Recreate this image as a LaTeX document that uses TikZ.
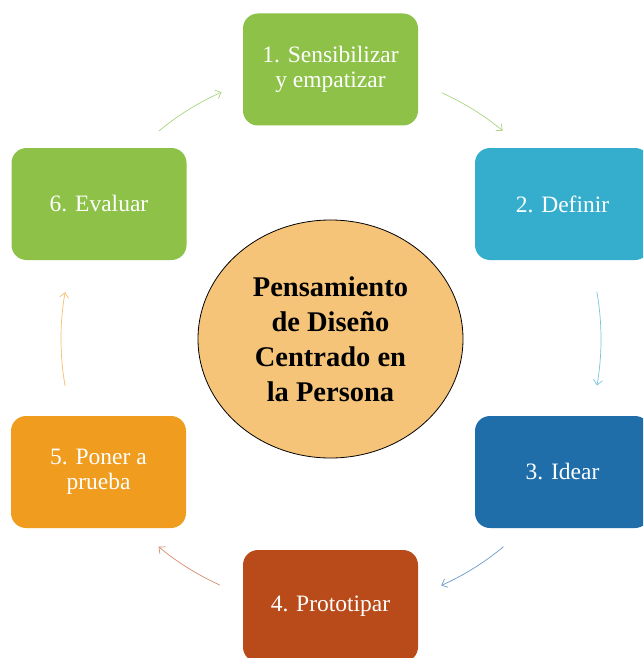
\documentclass[tikz,border=0pt]{standalone}
\usepackage{fontspec}
\setmainfont{Liberation Serif}
\usetikzlibrary{shapes.geometric,arrows.meta,calc}

\definecolor{stepgreen}{RGB}{141,193,72}
\definecolor{stepcyan}{RGB}{53,174,206}
\definecolor{stepblue}{RGB}{31,110,170}
\definecolor{steprust}{RGB}{184,75,25}
\definecolor{steporange}{RGB}{240,157,31}
\definecolor{corefill}{RGB}{245,196,120}

\tikzset{
  stepbox/.style={rectangle, rounded corners=15pt, draw=none,
    minimum width=175pt, minimum height=112pt, inner sep=2pt,
    text=white, align=center, font=\fontsize{23.5}{25}\selectfont},
  core/.style={ellipse, draw=black, line width=0.8pt, fill=corefill,
    minimum width=265pt, minimum height=238pt, inner sep=0pt,
    align=center, font=\bfseries\fontsize{28.5}{35}\selectfont},
  cyclearrow/.style={line width=0.7pt,
    -{Straight Barb[length=5pt,width=9pt,line width=0.7pt]}}
}

\begin{document}
\begin{tikzpicture}[x=1pt,y=1pt]
  \clip (0,0) rectangle (643,-658);
  \fill[white] (0,0) rectangle (643,-658);

  % central concept
  \node[core] (core) at (330.5,-339)
    {Pensamiento\\de Diseño\\Centrado en\\la Persona};

  % the six steps around it
  \node[stepbox, fill=stepgreen]  (s1) at (330.5,-69.5) {1. Sensibilizar\\y empatizar};
  \node[stepbox, fill=stepcyan]   (s2) at (562.5,-204)  {2. Definir};
  \node[stepbox, fill=stepblue]   (s3) at (562.5,-472)  {3. Idear};
  \node[stepbox, fill=steprust]   (s4) at (330.5,-606)  {4. Prototipar};
  \node[stepbox, fill=steporange] (s5) at (98.5,-472)   {5. Poner a\\prueba};
  \node[stepbox, fill=stepgreen]  (s6) at (99,-204)     {6. Evaluar};

  % arrow start points on a ring around the centre
  \coordinate (ring) at (331,-339);
  \coordinate (a12) at ($(ring)+(65.8:270)$);
  \coordinate (a23) at ($(ring)+(10.1:270)$);
  \coordinate (a34) at ($(ring)+(-50.3:270)$);
  \coordinate (a45) at ($(ring)+(-114.3:270)$);
  \coordinate (a56) at ($(ring)+(190:270)$);
  \coordinate (a61) at ($(ring)+(129.6:270)$);

  % curved arrows following the cycle
  \draw[cyclearrow, draw={rgb,255:red,170;green,213;blue,128}]
    (a12) arc[start angle=65.8, end angle=50.5, radius=270];
  \draw[cyclearrow, draw={rgb,255:red,120;green,196;blue,222}]
    (a23) arc[start angle=10.1, end angle=-9.9, radius=270];
  \draw[cyclearrow, draw={rgb,255:red,105;green,155;blue,205}]
    (a34) arc[start angle=-50.3, end angle=-65.9, radius=270];
  \draw[cyclearrow, draw={rgb,255:red,212;green,140;blue,110}]
    (a45) arc[start angle=-114.3, end angle=-129.7, radius=270];
  \draw[cyclearrow, draw={rgb,255:red,246;green,190;blue,110}]
    (a56) arc[start angle=190, end angle=170, radius=270];
  \draw[cyclearrow, draw={rgb,255:red,170;green,213;blue,128}]
    (a61) arc[start angle=129.6, end angle=113.9, radius=270];
\end{tikzpicture}
\end{document}
